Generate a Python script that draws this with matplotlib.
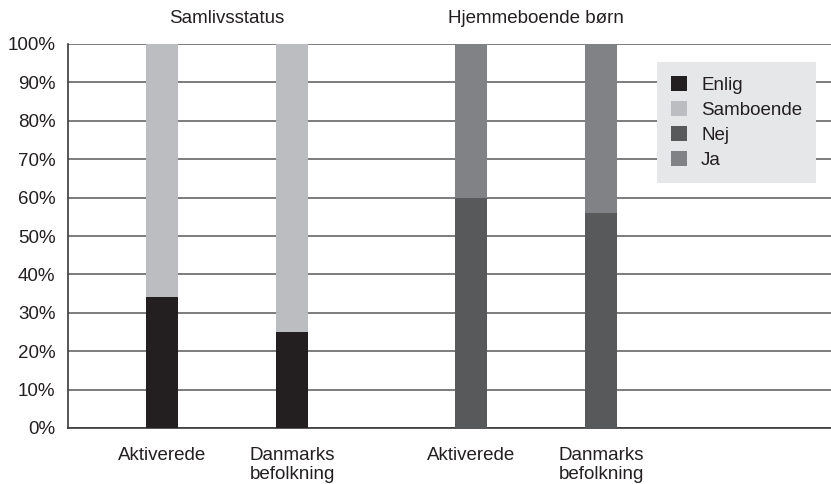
import numpy as np
import matplotlib
matplotlib.use('Agg')
import matplotlib.pyplot as plt
from matplotlib.patches import Patch

plt.rcParams['font.family'] = ['Liberation Sans', 'DejaVu Sans']

groups = ['Samlivsstatus', 'Hjemmeboende børn']
categories = ['Aktiverede', 'Danmarks\nbefolkning', 'Aktiverede', 'Danmarks\nbefolkning']
enlig = [34, 25]
samboende = [66, 75]
nej = [60, 56]
ja = [40, 44]
yticks = [0, 10, 20, 30, 40, 50, 60, 70, 80, 90, 100]

colors = {'Enlig': '#231f20', 'Samboende': '#bcbdc0', 'Nej': '#58595b', 'Ja': '#808285'}
fs = 13.5

fig = plt.figure(figsize=(8.31, 4.84), dpi=100)
ax = fig.add_axes([68/831, 1 - 428/484, 1 - 68/831, 384/484])

x = np.array([1, 2, 3.377, 4.377])
w = 0.24

ax.bar(x[:2], enlig, w, color=colors['Enlig'], zorder=3)
ax.bar(x[:2], samboende, w, bottom=enlig, color=colors['Samboende'], zorder=3)
ax.bar(x[2:], nej, w, color=colors['Nej'], zorder=3)
ax.bar(x[2:], ja, w, bottom=nej, color=colors['Ja'], zorder=3)

ax.set_xlim(0.277, 6.146)
ax.set_ylim(0, 100)
ax.set_yticks(yticks)
ax.set_yticklabels([f'{v}%' for v in yticks], fontsize=fs, color='#231f20')
ax.set_xticks(x)
ax.set_xticklabels(categories, fontsize=fs, color='#231f20', linespacing=1.15)
ax.tick_params(axis='y', length=0, pad=9)
ax.tick_params(axis='x', length=0, pad=14)
ax.yaxis.grid(True, color='#58595b', linewidth=1.1, zorder=0)
ax.set_axisbelow(True)
for s in ['top', 'right']:
    ax.spines[s].set_visible(False)
for s in ['left', 'bottom']:
    ax.spines[s].set_color('#3a3a3c')
    ax.spines[s].set_linewidth(1.2)

ax.text((x[0] + x[1]) / 2, 104.5, groups[0], ha='center', va='bottom', fontsize=fs, color='#231f20')
ax.text((x[2] + x[3]) / 2, 104.5, groups[1], ha='center', va='bottom', fontsize=fs, color='#231f20')

handles = [Patch(facecolor=c, edgecolor='none') for c in colors.values()]
leg = ax.legend(handles, list(colors.keys()), loc='upper left', fontsize=fs, frameon=True, fancybox=False,
                handlelength=0.85, handleheight=0.85, handletextpad=0.75, labelspacing=0.38,
                borderpad=0.75, borderaxespad=0)
leg.set_bbox_to_anchor((657/831, 1 - 62/484), transform=fig.transFigure)
leg.get_frame().set_facecolor('#e6e7e8')
leg.get_frame().set_edgecolor('none')
leg.get_frame().set_alpha(1)
for t in leg.get_texts():
    t.set_color('#231f20')

plt.savefig('out.png', dpi=100)
